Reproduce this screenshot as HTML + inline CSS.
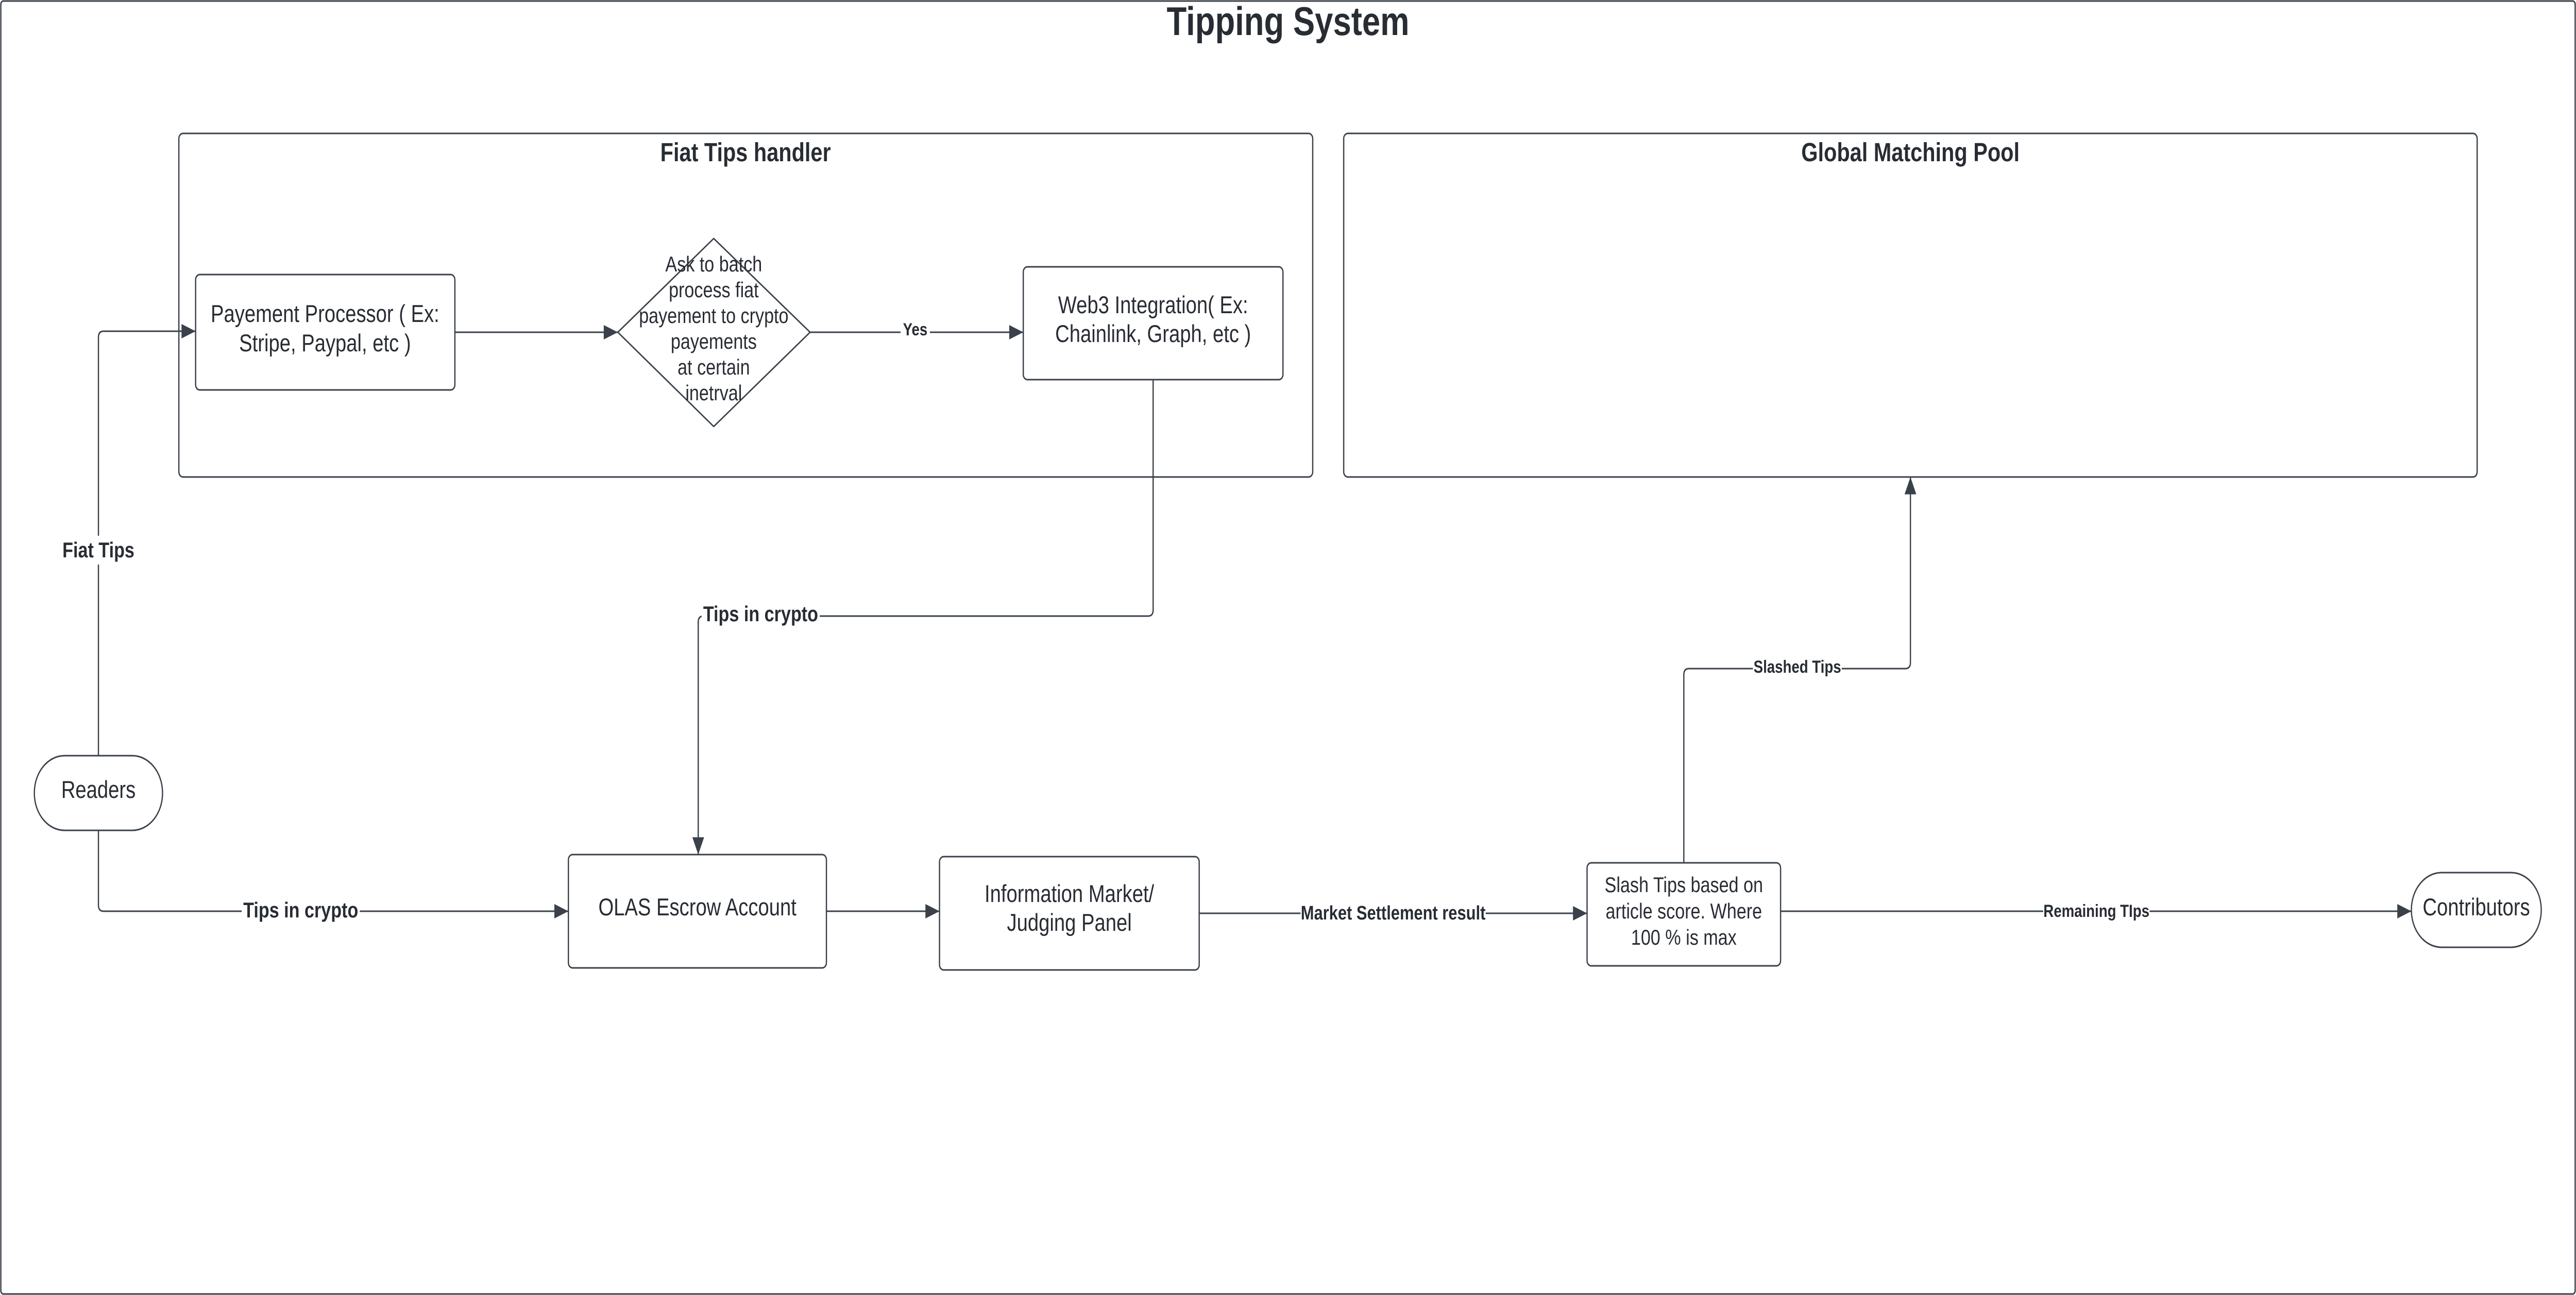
<!DOCTYPE html>
<html><head><meta charset="utf-8"><style>
html,body{margin:0;padding:0;background:#fff;width:100%;height:100%;overflow:hidden}
svg{display:block;width:100vw;height:100vh}
text{font-family:"Liberation Sans",sans-serif;fill:#282c33}
</style></head><body>
<svg viewBox="0 0 6150 2514" preserveAspectRatio="none" xmlns="http://www.w3.org/2000/svg">
<defs>
<marker id="ar" viewBox="0 0 12 10" refX="12" refY="5" markerWidth="34" markerHeight="28" markerUnits="userSpaceOnUse" orient="auto">
<path d="M0,0 L12,5 L0,10 Z" fill="#3a414a"/>
</marker>
</defs>
<rect x="2" y="2" width="6146" height="2510" rx="6" fill="#fff" stroke="#3a414a" stroke-width="3"/>
<text x="3075" y="68" font-size="78" font-weight="bold" text-anchor="middle">Tipping System</text>

<g fill="#fff" stroke="#3a414a" stroke-width="3">
<rect x="427" y="259" width="2707" height="667" rx="10"/>
<rect x="3208" y="259" width="2706" height="667" rx="10"/>
<rect x="467" y="533" width="619" height="224" rx="10"/>
<path d="M1704,463 L1934,645 L1704,828 L1475,645 Z" stroke-linejoin="round"/>
<rect x="2443" y="518" width="620" height="219" rx="10"/>
<rect x="82" y="1467" width="306" height="145" rx="72"/>
<rect x="1357" y="1659" width="616" height="220" rx="10"/>
<rect x="2243" y="1663" width="620" height="220" rx="10"/>
<rect x="3789" y="1675" width="462" height="200" rx="10"/>
<rect x="5757" y="1694" width="310" height="145" rx="72"/>
</g>

<g fill="none" stroke="#3a414a" stroke-width="3">
<path d="M1086,645 L1475,645" marker-end="url(#ar)"/>
<path d="M1934,645 L2443,645" marker-end="url(#ar)"/>
<path d="M235,1467 L235,655 Q235,643 247,643 L467,643" marker-end="url(#ar)"/>
<path d="M2753,737 L2753,1184 Q2753,1196 2741,1196 L1679,1196 Q1667,1196 1667,1208 L1667,1659" marker-end="url(#ar)"/>
<path d="M235,1612 L235,1757 Q235,1769 247,1769 L1357,1769" marker-end="url(#ar)"/>
<path d="M1973,1769 L2243,1769" marker-end="url(#ar)"/>
<path d="M2863,1773 L3789,1773" marker-end="url(#ar)"/>
<path d="M4251,1769 L5757,1769" marker-end="url(#ar)"/>
<path d="M4020,1675 L4020,1310 Q4020,1298 4032,1298 L4549,1298 Q4561,1298 4561,1286 L4561,926" marker-end="url(#ar)"/>
</g>

<g font-size="51" font-weight="bold" text-anchor="middle">
<text x="1780" y="313">Fiat Tips handler</text>
<text x="4561" y="313">Global Matching Pool</text>
</g>

<g font-size="47" text-anchor="middle">
<text x="776" y="625">Payement Processor ( Ex:</text>
<text x="776" y="682">Stripe, Paypal, etc )</text>
<text x="2753" y="608">Web3 Integration( Ex:</text>
<text x="2753" y="664">Chainlink, Graph, etc )</text>
<text x="235" y="1549">Readers</text>
<text x="1665" y="1777">OLAS Escrow Account</text>
<text x="2553" y="1751">Information Market/</text>
<text x="2553" y="1807">Judging Panel</text>
<text x="5912" y="1777">Contributors</text>
</g>
<g font-size="42" text-anchor="middle">
<text x="1704" y="527">Ask to batch</text>
<text x="1704" y="577">process fiat</text>
<text x="1704" y="627">payement to crypto</text>
<text x="1704" y="677">payements</text>
<text x="1704" y="727">at certain</text>
<text x="1704" y="777">inetrval</text>
<text x="4020" y="1732">Slash Tips based on</text>
<text x="4020" y="1783">article score. Where</text>
<text x="4020" y="1834">100 % is max</text>
</g>

<g font-weight="bold" text-anchor="middle">
<rect x="140" y="1040" width="190" height="56" fill="#fff"/>
<text x="235" y="1082" font-size="42">Fiat Tips</text>
<rect x="1675" y="1165" width="282" height="56" fill="#fff"/>
<text x="1816" y="1206" font-size="42">Tips in crypto</text>
<rect x="577" y="1740" width="282" height="56" fill="#fff"/>
<text x="718" y="1781" font-size="42">Tips in crypto</text>
<rect x="3105" y="1746" width="442" height="52" fill="#fff"/>
<text x="3326" y="1785" font-size="38">Market Settlement result</text>
<rect x="2150" y="620" width="70" height="44" fill="#fff"/>
<text x="2185" y="651" font-size="34">Yes</text>
<rect x="4185" y="1274" width="212" height="44" fill="#fff"/>
<text x="4291" y="1306" font-size="34">Slashed Tips</text>
<rect x="4878" y="1748" width="254" height="44" fill="#fff"/>
<text x="5005" y="1780" font-size="34">Remaining TIps</text>
</g>
</svg>
</body></html>
